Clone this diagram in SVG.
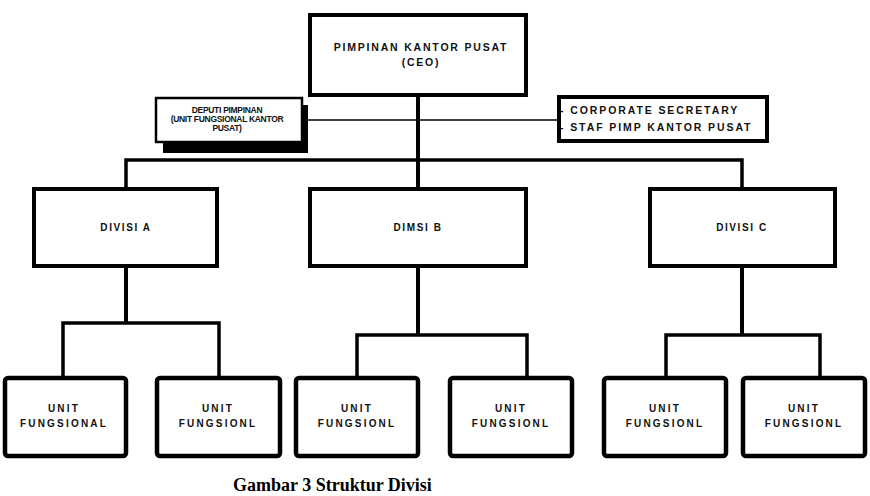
<svg xmlns="http://www.w3.org/2000/svg" width="870" height="496" viewBox="0 0 870 496">
<style>
.box{fill:#fff;stroke:#000;stroke-width:4}
.ubox{fill:#fff;stroke:#000;stroke-width:4.5}
.t{font-family:"Liberation Sans",Arial,sans-serif;font-weight:bold;fill:#111;text-anchor:middle}
.ts{text-anchor:start}
.ln{fill:none;stroke:#000;stroke-width:4}
.bus{fill:none;stroke:#000;stroke-width:3.5}
.thin{fill:none;stroke:#000;stroke-width:1.5}
</style>
<rect width="870" height="496" fill="#fff"/>
<g id="connectors">
<line class="thin" x1="303" y1="120" x2="557" y2="120"/>
<line class="ln" x1="418" y1="97" x2="418" y2="189"/>
<polyline class="bus" points="126,189 126,160 742,160 742,189"/>
<polyline class="ln" points="126,266 126,323"/>
<polyline class="bus" points="63,378 63,323 219,323 219,378"/>
<polyline class="ln" points="418,266 418,335"/>
<polyline class="bus" points="357,378 357,335 527,335 527,378"/>
<polyline class="ln" points="742,266 742,335"/>
<polyline class="bus" points="666,378 666,335 820,335 820,378"/>
</g>
<g id="ceo">
<rect class="box" x="310" y="15" width="216" height="80"/>
<text class="t" x="421" y="51" font-size="10.5" letter-spacing="1.8">PIMPINAN KANTOR PUSAT</text>
<text class="t" x="421" y="66" font-size="10.5" letter-spacing="1.8">(CEO)</text>
</g>
<g id="deputi">
<rect x="163" y="105" width="145" height="48" fill="#000"/>
<rect x="156" y="98" width="146" height="44" fill="#fff" stroke="#000" stroke-width="2.5"/>
<text class="t" x="227" y="113" font-size="8.5" letter-spacing="-0.3">DEPUTI PIMPINAN</text>
<text class="t" x="227" y="122" font-size="8.5" letter-spacing="-0.3">(UNIT FUNGSIONAL KANTOR</text>
<text class="t" x="227" y="131" font-size="8.5" letter-spacing="-0.3">PUSAT)</text>
</g>
<g id="corporate">
<rect class="box" x="559" y="97" width="208" height="44"/>
<text class="t ts" x="560" y="114" font-size="10.5" letter-spacing="1.9">- CORPORATE SECRETARY</text>
<text class="t ts" x="560" y="131" font-size="10.5" letter-spacing="1.9">- STAF PIMP KANTOR PUSAT</text>
</g>
<g id="divisi-a">
<rect class="box" x="34" y="189" width="183" height="77"/>
<text class="t" x="126" y="231" font-size="10" letter-spacing="1.6">DIVISI A</text>
</g>
<g id="divisi-b">
<rect class="box" x="310" y="189" width="216" height="77"/>
<text class="t" x="418" y="231" font-size="10" letter-spacing="1.6">DIMSI B</text>
</g>
<g id="divisi-c">
<rect class="box" x="650" y="189" width="185" height="77"/>
<text class="t" x="742" y="231" font-size="10" letter-spacing="1.6">DIVISI C</text>
</g>
<g id="unit-a1">
<rect class="ubox" x="5" y="378" width="121" height="78" rx="3"/>
<text class="t" x="64" y="412" font-size="10" letter-spacing="2.2">UNIT</text>
<text class="t" x="64" y="427" font-size="10" letter-spacing="2.2">FUNGSIONAL</text>
</g>
<g id="unit-a2">
<rect class="ubox" x="157" y="378" width="123" height="78" rx="3"/>
<text class="t" x="218" y="412" font-size="10" letter-spacing="2.2">UNIT</text>
<text class="t" x="218" y="427" font-size="10" letter-spacing="2.2">FUNGSIONL</text>
</g>
<g id="unit-b1">
<rect class="ubox" x="296" y="378" width="122" height="78" rx="3"/>
<text class="t" x="357" y="412" font-size="10" letter-spacing="2.2">UNIT</text>
<text class="t" x="357" y="427" font-size="10" letter-spacing="2.2">FUNGSIONL</text>
</g>
<g id="unit-b2">
<rect class="ubox" x="450" y="378" width="122" height="78" rx="3"/>
<text class="t" x="511" y="412" font-size="10" letter-spacing="2.2">UNIT</text>
<text class="t" x="511" y="427" font-size="10" letter-spacing="2.2">FUNGSIONL</text>
</g>
<g id="unit-c1">
<rect class="ubox" x="604" y="378" width="122" height="78" rx="3"/>
<text class="t" x="665" y="412" font-size="10" letter-spacing="2.2">UNIT</text>
<text class="t" x="665" y="427" font-size="10" letter-spacing="2.2">FUNGSIONL</text>
</g>
<g id="unit-c2">
<rect class="ubox" x="743" y="378" width="122" height="78" rx="3"/>
<text class="t" x="804" y="412" font-size="10" letter-spacing="2.2">UNIT</text>
<text class="t" x="804" y="427" font-size="10" letter-spacing="2.2">FUNGSIONL</text>
</g>
<text x="233" y="491" font-family="'Liberation Serif','Times New Roman',serif" font-weight="bold" font-size="18" fill="#000">Gambar 3 Struktur Divisi</text>
</svg>
